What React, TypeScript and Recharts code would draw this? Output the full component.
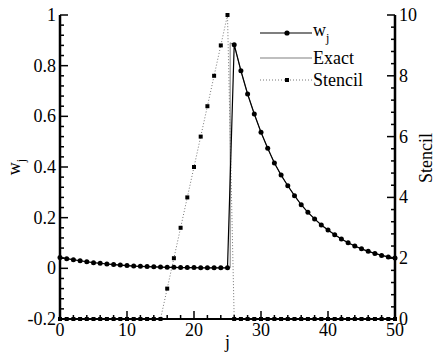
import { LineChart, Line, XAxis, YAxis, Legend } from 'recharts';

const FONT = "'Liberation Serif', 'Times New Roman', serif";

// j grid
const jVals = [
  0, 1, 2, 3, 4, 5, 6, 7, 8, 9, 10, 11, 12, 13, 14, 15, 16, 17, 18, 19, 20, 21, 22, 23, 24, 25,
  26, 27, 28, 29, 30, 31, 32, 33, 34, 35, 36, 37, 38, 39, 40, 41, 42, 43, 44, 45, 46, 47, 48, 49, 50,
];

// computed w_j
const wVals = [
  0.043, 0.038, 0.034, 0.03, 0.026, 0.022, 0.02, 0.017, 0.015, 0.013, 0.011, 0.009, 0.008, 0.007, 0.006,
  0.005, 0.004, 0.004, 0.003, 0.003, 0.003, 0.002, 0.002, 0.002, 0.002, 0.002,
  0.883, 0.78, 0.688, 0.609, 0.537, 0.474, 0.416, 0.368, 0.326, 0.287, 0.251, 0.221, 0.195, 0.171, 0.151,
  0.133, 0.116, 0.101, 0.088, 0.077, 0.067, 0.059, 0.051, 0.045, 0.041,
];

// exact solution, jump just after j=25
const exactJ = [
  0, 2, 4, 6, 8, 10, 12, 14, 16, 18, 20, 22, 24, 25, 25.4, 25.4,
  26, 27, 28, 29, 30, 31, 32, 33, 34, 35, 36, 37, 38, 39, 40, 41, 42, 43, 44, 45, 46, 47, 48, 49, 50,
];
const exactVals = [
  0.043, 0.034, 0.026, 0.02, 0.015, 0.011, 0.008, 0.006, 0.004, 0.003, 0.003, 0.002, 0.002, 0.002, 0.002, 0.89,
  0.883, 0.78, 0.688, 0.609, 0.537, 0.474, 0.416, 0.368, 0.326, 0.287, 0.251, 0.221, 0.195, 0.171, 0.151,
  0.133, 0.116, 0.101, 0.088, 0.077, 0.067, 0.059, 0.051, 0.045, 0.041,
];

// stencil width
const stencilVals = [
  0, 0, 0, 0, 0, 0, 0, 0, 0, 0, 0, 0, 0, 0, 0, 0, 1, 2, 3, 4, 5, 6, 7, 8, 9, 10,
  0, 0, 0, 0, 0, 0, 0, 0, 0, 0, 0, 0, 0, 0, 0, 0, 0, 0, 0, 0, 0, 0, 0, 0, 0,
];

// ticks (major + minor)
const jTicks = [0, 2, 4, 6, 8, 10, 12, 14, 16, 18, 20, 22, 24, 26, 28, 30, 32, 34, 36, 38, 40, 42, 44, 46, 48, 50];
const wTicks = [
  -0.2, -0.16, -0.12, -0.08, -0.04, 0, 0.04, 0.08, 0.12, 0.16, 0.2, 0.24, 0.28, 0.32, 0.36, 0.4,
  0.44, 0.48, 0.52, 0.56, 0.6, 0.64, 0.68, 0.72, 0.76, 0.8, 0.84, 0.88, 0.92, 0.96, 1,
];
const sTicks = [
  0, 0.4, 0.8, 1.2, 1.6, 2, 2.4, 2.8, 3.2, 3.6, 4, 4.4, 4.8, 5.2, 5.6, 6, 6.4, 6.8, 7.2, 7.6, 8,
  8.4, 8.8, 9.2, 9.6, 10,
];

const wData = jVals.map((j, i) => ({ j, w: wVals[i] }));
const exactData = exactJ.map((j, i) => ({ j, exact: exactVals[i] }));
const stencilData = jVals.map((j, i) => ({ j, stencil: stencilVals[i] }));

const isMajor = (v: number, step: number) => Math.abs(v / step - Math.round(v / step)) < 1e-6;
const fmt = (v: number) => String(Math.round(v * 10) / 10);

const LeftTick = (props: any) => {
  const { x, y, payload } = props;
  const major = isMajor(payload.value, 0.2);
  return (
    <g>
      <line x1={x} y1={y} x2={x + (major ? 8 : 4)} y2={y} stroke="#000" strokeWidth={1.5} />
      {major && (
        <text x={x - 4} y={y} dy={6} textAnchor="end" fontFamily={FONT} fontSize={18} fill="#000">
          {fmt(payload.value)}
        </text>
      )}
    </g>
  );
};

const RightTick = (props: any) => {
  const { x, y, payload } = props;
  const major = isMajor(payload.value, 2);
  return (
    <g>
      <line x1={x} y1={y} x2={x - (major ? 8 : 4)} y2={y} stroke="#000" strokeWidth={1.5} />
      {major && (
        <text x={x + 4} y={y} dy={6} textAnchor="start" fontFamily={FONT} fontSize={18} fill="#000">
          {fmt(payload.value)}
        </text>
      )}
    </g>
  );
};

const BottomTick = (props: any) => {
  const { x, y, payload } = props;
  const major = isMajor(payload.value, 10);
  return (
    <g>
      <line x1={x} y1={y} x2={x} y2={y - (major ? 8 : 4)} stroke="#000" strokeWidth={1.5} />
      {major && (
        <text x={x} y={y + 17} textAnchor="middle" fontFamily={FONT} fontSize={18} fill="#000">
          {fmt(payload.value)}
        </text>
      )}
    </g>
  );
};

const StencilDot = (p: any) => (
  <rect key={`s-${p.index}`} x={p.cx - 2} y={p.cy - 2} width={4} height={4} fill="#000" />
);

const LegendBox = () => {
  const rows = [33, 58, 80].map((y) => y - 15);
  return (
    <svg width={130} height={80} style={{ display: 'block', overflow: 'visible' }}>
      <line x1={5} y1={rows[0]} x2={57} y2={rows[0]} stroke="#000" strokeWidth={1.2} />
      <circle cx={32} cy={rows[0]} r={2.6} fill="#000" />
      <text x={58} y={rows[0] + 3} fontFamily={FONT} fontSize={18} fill="#000">
        w<tspan fontSize={12} dy={6}>j</tspan>
      </text>
      <line x1={5} y1={rows[1]} x2={57} y2={rows[1]} stroke="#808080" strokeWidth={1.2} />
      <text x={58} y={rows[1] + 6} fontFamily={FONT} fontSize={18} fill="#000">Exact</text>
      <line x1={5} y1={rows[2]} x2={57} y2={rows[2]} stroke="#777" strokeWidth={1} strokeDasharray="1 2" />
      <rect x={30} y={rows[2] - 2} width={4} height={4} fill="#000" />
      <text x={58} y={rows[2] + 6} fontFamily={FONT} fontSize={18} fill="#000">Stencil</text>
    </svg>
  );
};

export default function App() {
  return (
    <div style={{ position: 'absolute', left: 0, top: 0, width: 435, height: 354, background: '#fff' }}>
      <LineChart width={435} height={354} margin={{ top: 15, right: 0, bottom: 0, left: 0 }}>
        <XAxis
          dataKey="j"
          type="number"
          domain={[0, 50]}
          ticks={jTicks}
          interval={0}
          height={35}
          tickSize={0}
          tickMargin={0}
          tickLine={false}
          tick={<BottomTick />}
          axisLine={{ stroke: '#000', strokeWidth: 2.2 }}
          allowDuplicatedCategory={false}
          label={{
            content: (p: any) => {
              const vb = p.viewBox || { x: 60, y: 319, width: 335 };
              return (
                <text x={vb.x + vb.width / 2} y={vb.y + 29} textAnchor="middle" fontFamily={FONT} fontSize={18} fill="#000">
                  j
                </text>
              );
            },
          }}
        />
        <YAxis
          yAxisId="w"
          orientation="left"
          type="number"
          domain={[-0.2, 1]}
          ticks={wTicks}
          interval={0}
          width={60}
          tickSize={0}
          tickMargin={0}
          tickLine={false}
          tick={<LeftTick />}
          axisLine={{ stroke: '#000', strokeWidth: 2.5 }}
          label={{
            content: (p: any) => {
              const vb = p.viewBox || { x: 0, y: 15, width: 60, height: 304 };
              const cx = vb.x + 20;
              const cy = vb.y + vb.height / 2;
              return (
                <text x={cx} y={cy} transform={`rotate(-90 ${cx} ${cy})`} textAnchor="middle" fontFamily={FONT} fontSize={18} fill="#000">
                  w<tspan fontSize={12} dy={5}>j</tspan>
                </text>
              );
            },
          }}
        />
        <YAxis
          yAxisId="s"
          orientation="right"
          type="number"
          domain={[0, 10]}
          ticks={sTicks}
          interval={0}
          width={40}
          tickSize={0}
          tickMargin={0}
          tickLine={false}
          tick={<RightTick />}
          axisLine={{ stroke: '#000', strokeWidth: 2.5 }}
          label={{
            content: (p: any) => {
              const vb = p.viewBox || { x: 395, y: 15, width: 40, height: 304 };
              const cx = vb.x + 37;
              const cy = vb.y + 143;
              return (
                <text x={cx} y={cy} transform={`rotate(-90 ${cx} ${cy})`} textAnchor="middle" fontFamily={FONT} fontSize={18} fill="#000">
                  Stencil
                </text>
              );
            },
          }}
        />
        <Legend
          layout="vertical"
          align="center"
          verticalAlign="middle"
          wrapperStyle={{ position: 'absolute', left: 255, top: 15, width: 130, height: 80 }}
          content={() => <LegendBox />}
        />
        <Line
          yAxisId="w"
          data={exactData}
          dataKey="exact"
          name="Exact"
          stroke="#808080"
          strokeWidth={1}
          dot={false}
          activeDot={false}
          isAnimationActive={false}
        />
        <Line
          yAxisId="s"
          data={stencilData}
          dataKey="stencil"
          name="Stencil"
          stroke="#777"
          strokeWidth={1}
          strokeDasharray="1 2"
          dot={StencilDot}
          activeDot={false}
          isAnimationActive={false}
        />
        <Line
          yAxisId="w"
          data={wData}
          dataKey="w"
          name="wj"
          stroke="#000"
          strokeWidth={1.2}
          dot={{ r: 2.5, fill: '#000', stroke: '#000', strokeWidth: 0 }}
          activeDot={false}
          isAnimationActive={false}
        />
      </LineChart>
    </div>
  );
}
